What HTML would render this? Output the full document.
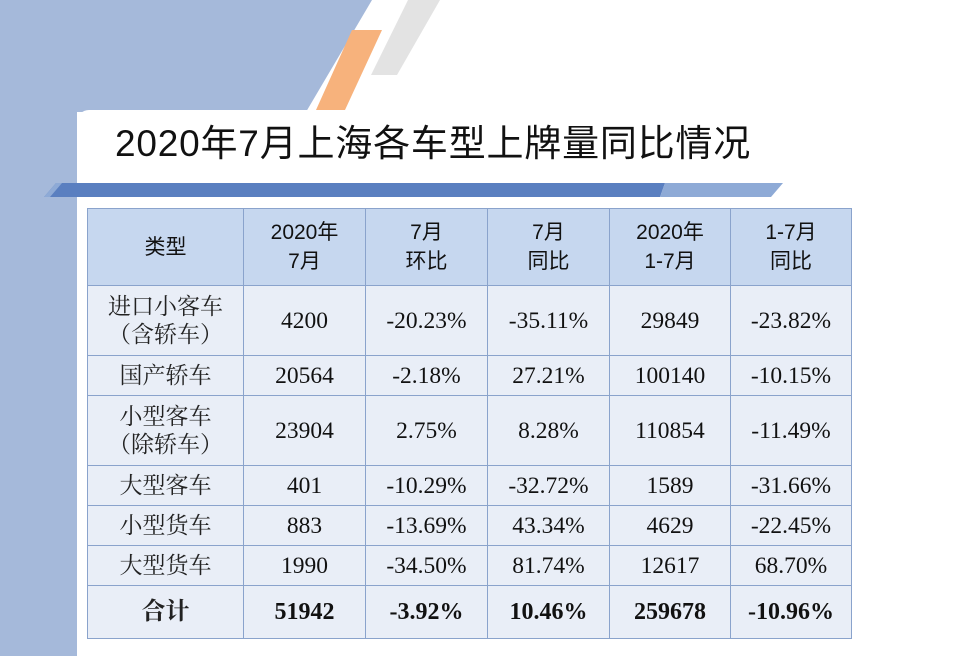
<!DOCTYPE html>
<html><head><meta charset="utf-8"><style>
body{margin:0;width:960px;height:656px;overflow:hidden;background:#fff;position:relative;font-family:"Liberation Serif","Noto Serif CJK SC",serif}
.abs{position:absolute}
table{position:absolute;left:87px;top:208px;border-collapse:collapse;table-layout:fixed}
td{border:1px solid #8aa3cc;text-align:center;vertical-align:middle;font-size:23.5px;color:#111;background:#e9eef7;padding:0;line-height:28px}
tr.h td{background:#c6d7ef;font-family:"Liberation Sans","Noto Sans CJK SC",sans-serif;font-size:21px;line-height:29px}
td.l{font-family:"Liberation Serif","Noto Serif CJK SC",serif;color:#222;font-size:23px}
tr.t td{font-weight:bold;font-size:24px}
</style></head><body>
<svg class="abs" style="left:0;top:0" width="960" height="656">
<polygon points="0,0 372,0 306,112 77,112 77,656 0,656" fill="#a5b9da"/>
<polygon points="352,30 382,30 345,110 316,110" fill="#f7b27c"/>
<polygon points="408,0 440,0 397,75 371,75" fill="#e3e3e3"/>
<polygon points="56,183 665,183 660,197 44,197" fill="#5a7fc0"/>
<polygon points="44,197 56,183 62,183 50,197" fill="#8eaad6"/>
<polygon points="665,183 783,183 771,197 660,197" fill="#8eaad6"/>
</svg>
<div class="abs" style="left:77px;top:110px;width:900px;height:73px;background:#fff;border-top-left-radius:12px"></div>
<div class="abs" style="left:115px;top:120px;font-family:'Liberation Sans','Noto Sans CJK SC',sans-serif;font-size:37px;letter-spacing:0.8px;color:#111;line-height:48px;white-space:nowrap">2020年7月上海各车型上牌量同比情况</div>
<table>
<colgroup><col style="width:156px"><col style="width:122px"><col style="width:122px"><col style="width:122px"><col style="width:121px"><col style="width:121px"></colgroup>
<tr class="h" style="height:77px"><td>类型</td><td>2020年<br>7月</td><td>7月<br>环比</td><td>7月<br>同比</td><td>2020年<br>1-7月</td><td>1-7月<br>同比</td></tr>
<tr style="height:70px"><td class="l">进口小客车<br>（含轿车）</td><td>4200</td><td>-20.23%</td><td>-35.11%</td><td>29849</td><td>-23.82%</td></tr>
<tr style="height:40px"><td class="l">国产轿车</td><td>20564</td><td>-2.18%</td><td>27.21%</td><td>100140</td><td>-10.15%</td></tr>
<tr style="height:70px"><td class="l">小型客车<br>（除轿车）</td><td>23904</td><td>2.75%</td><td>8.28%</td><td>110854</td><td>-11.49%</td></tr>
<tr style="height:40px"><td class="l">大型客车</td><td>401</td><td>-10.29%</td><td>-32.72%</td><td>1589</td><td>-31.66%</td></tr>
<tr style="height:40px"><td class="l">小型货车</td><td>883</td><td>-13.69%</td><td>43.34%</td><td>4629</td><td>-22.45%</td></tr>
<tr style="height:40px"><td class="l">大型货车</td><td>1990</td><td>-34.50%</td><td>81.74%</td><td>12617</td><td>68.70%</td></tr>
<tr class="t" style="height:53px"><td class="l" style="font-weight:bold">合计</td><td>51942</td><td>-3.92%</td><td>10.46%</td><td>259678</td><td>-10.96%</td></tr>
</table>
</body></html>
